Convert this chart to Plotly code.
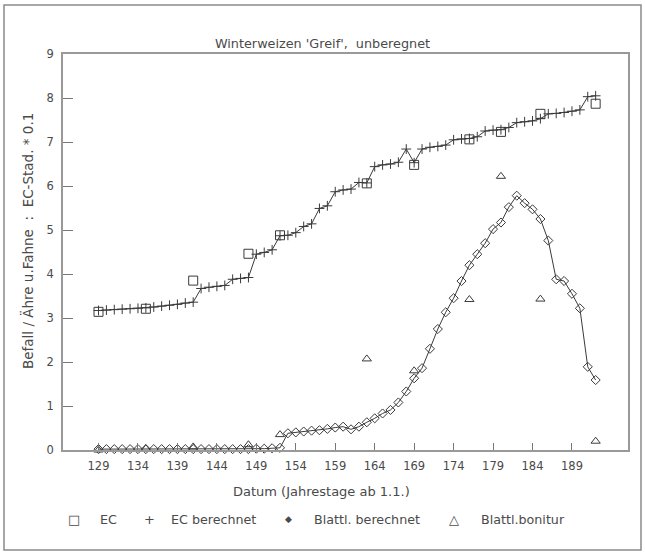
import plotly.graph_objects as go

# ---- data ----
days_ec = [129, 135, 141, 148, 152, 163, 169, 176, 180, 185, 192]
ec_obs = [3.14, 3.21, 3.85, 4.46, 4.88, 6.06, 6.48, 7.06, 7.23, 7.64, 7.87]
bonitur = [0.0, 0.03, 0.07, 0.12, 0.35, 2.07, 1.80, 3.42, 6.22, 3.43, 0.20]

days_calc = [129, 130, 131, 132, 133, 134, 135, 136, 137, 138, 139, 140, 141, 142,
             143, 144, 145, 146, 147, 148, 149, 150, 151, 152, 153, 154, 155, 156,
             157, 158, 159, 160, 161, 162, 163, 164, 165, 166, 167, 168, 169, 170,
             171, 172, 173, 174, 175, 176, 177, 178, 179, 180, 181, 182, 183, 184,
             185, 186, 187, 188, 189, 190, 191, 192]
ec_calc = [3.17, 3.18, 3.19, 3.20, 3.21, 3.22, 3.23, 3.25, 3.27, 3.29, 3.31, 3.34, 3.36, 3.67,
           3.70, 3.72, 3.74, 3.88, 3.90, 3.92, 4.45, 4.49, 4.55, 4.87, 4.88, 4.94, 5.08, 5.14,
           5.49, 5.55, 5.87, 5.91, 5.93, 6.08, 6.07, 6.44, 6.48, 6.50, 6.54, 6.84, 6.53, 6.84,
           6.88, 6.90, 6.93, 7.05, 7.07, 7.08, 7.12, 7.25, 7.27, 7.28, 7.33, 7.44, 7.46, 7.48,
           7.53, 7.64, 7.65, 7.67, 7.70, 7.73, 8.03, 8.05]
blatt_calc = [0.02, 0.02, 0.02, 0.02, 0.02, 0.02, 0.02, 0.02, 0.02, 0.02, 0.02, 0.02, 0.02, 0.02,
              0.02, 0.02, 0.02, 0.02, 0.02, 0.02, 0.03, 0.03, 0.04, 0.05, 0.38, 0.40, 0.42, 0.44,
              0.45, 0.48, 0.51, 0.53, 0.47, 0.53, 0.63, 0.72, 0.83, 0.91, 1.08, 1.33, 1.63, 1.86,
              2.30, 2.75, 3.13, 3.45, 3.84, 4.20, 4.45, 4.70, 5.02, 5.17, 5.52, 5.78, 5.61, 5.47,
              5.25, 4.76, 3.88, 3.84, 3.55, 3.22, 1.89, 1.59]

x_ticks = [129, 134, 139, 144, 149, 154, 159, 164, 169, 174, 179, 184, 189]
y_ticks = [0, 1, 2, 3, 4, 5, 6, 7, 8, 9]

title_text = "Winterweizen 'Greif',  unberegnet"
x_title = "Datum (Jahrestage ab 1.1.)"
y_title = "Befall / Ähre u.Fahne  :  EC-Stad. * 0.1"
legend_symbols = ["□", "+", "◆", "△"]
legend_labels = ["EC", "EC berechnet", "Blattl. berechnet", "Blattl.bonitur"]

# ---- styling ----
FONT = "DejaVu Sans"
INK = "#3a3a3a"
TXT = "#4a4a4a"
W, H = 645, 555
L, R, T, B = 63, 17, 54, 105
PW, PH = W - L - R, H - T - B


def px_x(px):
    return (px - L) / PW


def px_y(py):
    return (H - B - py) / PH


fig = go.Figure()

fig.add_trace(go.Scatter(
    x=days_calc, y=ec_calc, mode="lines+markers", name="EC berechnet",
    line=dict(color=INK, width=1),
    marker=dict(symbol="cross-thin", size=7, line=dict(color=INK, width=1)),
    cliponaxis=False,
))
fig.add_trace(go.Scatter(
    x=days_calc, y=blatt_calc, mode="lines+markers", name="Blattl. berechnet",
    line=dict(color=INK, width=1),
    marker=dict(symbol="diamond-open", size=7, color=INK, line=dict(width=1)),
    cliponaxis=False,
))
fig.add_trace(go.Scatter(
    x=days_ec, y=ec_obs, mode="markers", name="EC",
    marker=dict(symbol="square-open", size=9, color=INK, line=dict(width=1)),
    cliponaxis=False,
))
fig.add_trace(go.Scatter(
    x=days_ec, y=bonitur, mode="markers", name="Blattl.bonitur",
    marker=dict(symbol="triangle-up-open", size=8, color=INK, line=dict(width=1)),
    cliponaxis=False,
))

axis_common = dict(
    showgrid=False, zeroline=False, showline=True, mirror=True,
    linecolor="#999999", linewidth=1.5, automargin=False,
    ticks="inside", tickcolor="#777777", tickwidth=1,
    tickfont=dict(family=FONT, size=11.5, color=TXT),
)
fig.update_xaxes(range=[124.5, 196.1], tickvals=x_ticks, ticklen=7,
                 ticklabelstandoff=4, **axis_common)
fig.update_yaxes(range=[0, 9], tickvals=y_ticks, ticklen=10,
                 ticklabelstandoff=5, **axis_common)

annotations = [
    dict(text=x_title, x=px_x(321), y=px_y(492), xref="paper", yref="paper",
         showarrow=False, xanchor="center", yanchor="middle",
         font=dict(family=FONT, size=13, color=TXT)),
    dict(text=y_title, x=px_x(27), y=px_y(241), xref="paper", yref="paper",
         showarrow=False, xanchor="center", yanchor="middle", textangle=-90,
         font=dict(family=FONT, size=13.5, color=TXT)),
]
sym_x = [74, 149, 288, 454]
lab_x = [98, 169, 312, 479]
sym_sizes = [13, 13, 9, 13]
for s, lab, sx, lx, ss in zip(legend_symbols, legend_labels, sym_x, lab_x, sym_sizes):
    annotations.append(dict(text=s, x=px_x(sx), y=px_y(519), xref="paper", yref="paper",
                            showarrow=False, xanchor="center", yanchor="middle",
                            font=dict(family=FONT, size=ss, color=TXT)))
    annotations.append(dict(text=lab, x=px_x(lx), y=px_y(519), xref="paper", yref="paper",
                            showarrow=False, xanchor="left", yanchor="middle",
                            font=dict(family=FONT, size=12.7, color=TXT)))

fig.update_layout(
    width=W, height=H,
    margin=dict(l=L, r=R, t=T, b=B, pad=0, autoexpand=False),
    paper_bgcolor="white", plot_bgcolor="white",
    showlegend=False,
    title=dict(text=title_text, x=0.5, xref="container", xanchor="center",
               y=1 - 44 / H, yref="container", yanchor="middle",
               font=dict(family=FONT, size=12.8, color=TXT)),
    annotations=annotations,
    shapes=[dict(type="rect", xref="paper", yref="paper",
                 x0=px_x(4), x1=px_x(641), y0=px_y(550), y1=px_y(5),
                 line=dict(color="#8a8a8a", width=1.5), layer="below")],
)

fig.write_html(
    "out.html",
    config={"displayModeBar": False},
    post_script="document.body.style.margin='0px';document.body.style.overflow='hidden';",
)
